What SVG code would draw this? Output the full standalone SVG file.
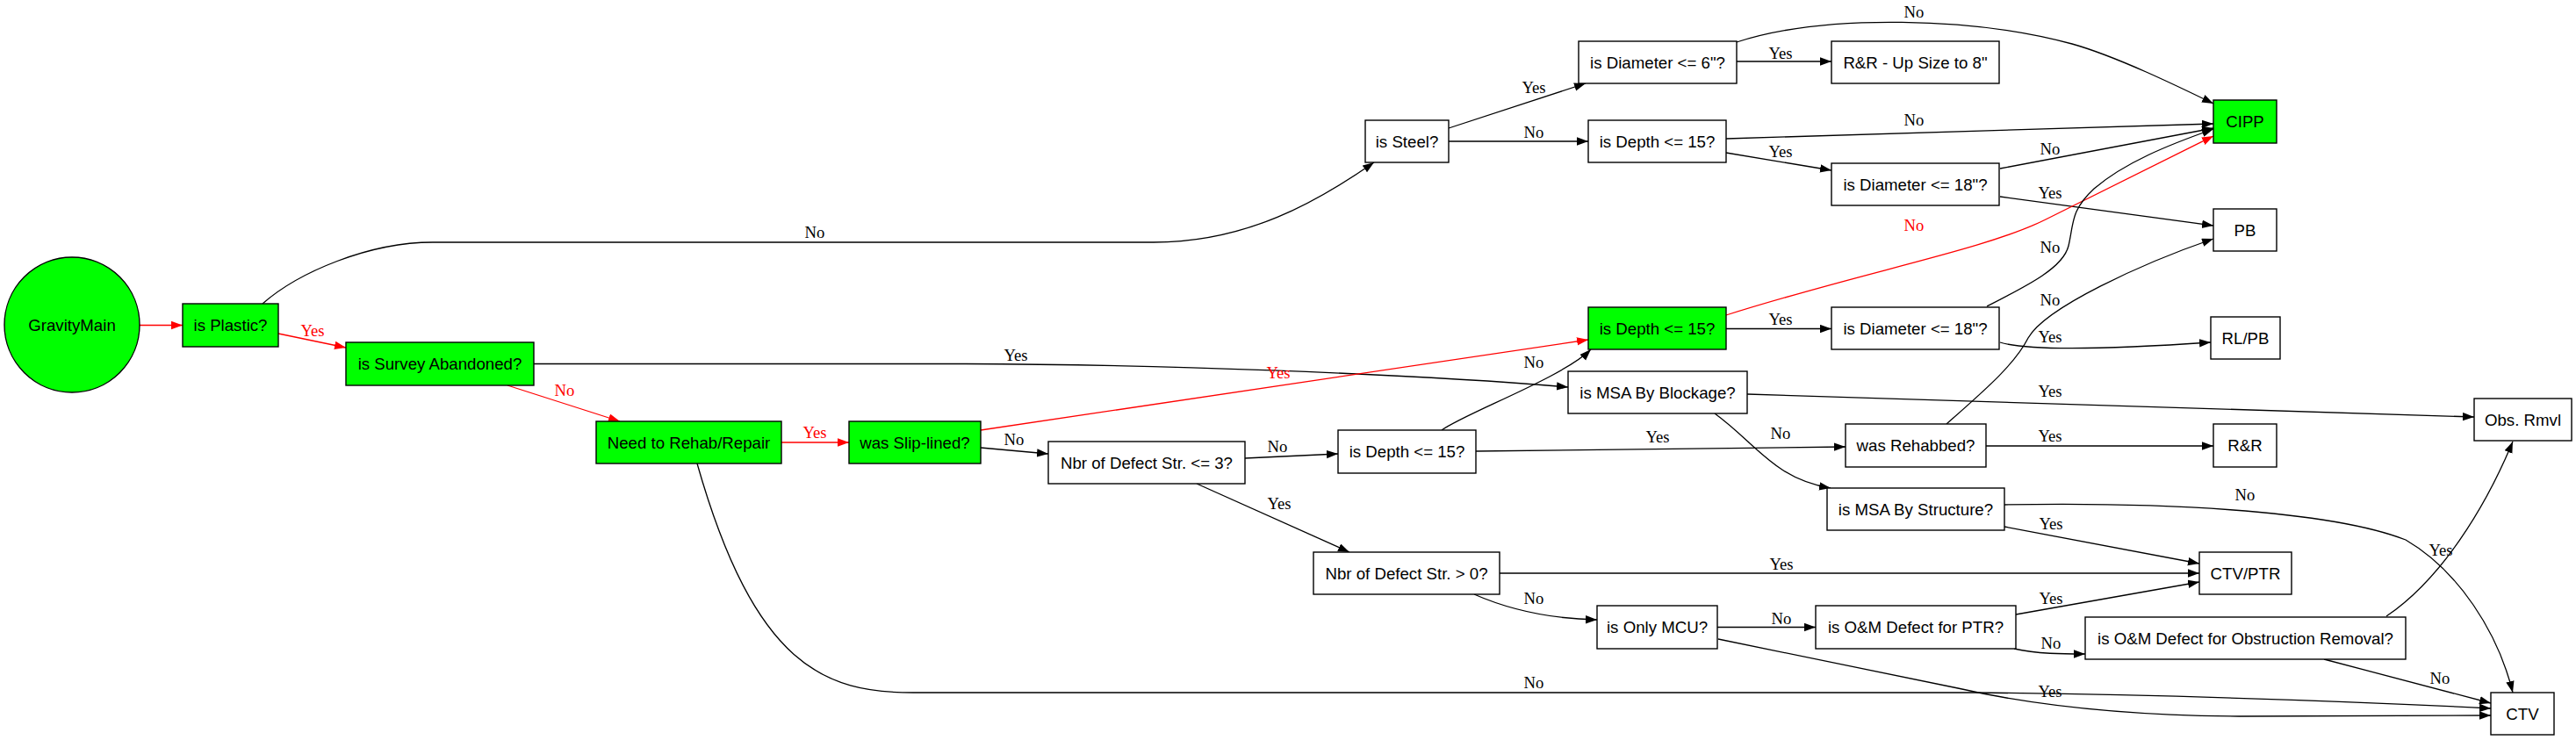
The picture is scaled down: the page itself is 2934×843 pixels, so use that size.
<svg xmlns="http://www.w3.org/2000/svg" width="2934" height="843" viewBox="0 0 2934 843">
<style>
.n rect, .n ellipse { stroke: #000; stroke-width: 1.4; }
.g rect, .g ellipse { fill: #00ff00; }
.w rect { fill: #ffffff; }
.n text { font-family: "Liberation Sans", Arial, sans-serif; font-size: 18.67px; text-anchor: middle; fill: #000; }
.e path { fill: none; stroke: #000; stroke-width: 1.3; marker-end: url(#ab); }
.e path.r { stroke: #ff0000; marker-end: url(#ar); }
.e text { font-family: "Liberation Serif", "Times New Roman", serif; font-size: 18.67px; text-anchor: middle; fill: #000; }
.e text.r { fill: #ff0000; }
</style>
<defs>
<marker id="ab" markerUnits="userSpaceOnUse" markerWidth="14" markerHeight="10" refX="13" refY="4.7" orient="auto"><path d="M0,0 L13,4.7 L0,9.4 z" fill="#000"/></marker>
<marker id="ar" markerUnits="userSpaceOnUse" markerWidth="14" markerHeight="10" refX="13" refY="4.7" orient="auto"><path d="M0,0 L13,4.7 L0,9.4 z" fill="#ff0000"/></marker>
</defs>
<rect width="2934" height="843" fill="#ffffff"/>
<g id="edges" class="e">
<path class="r" d="M159,370.5 L208,370.5"/>
<path class="r" d="M317,380 L394,396"/><text class="r" x="356" y="383">Yes</text>
<path d="M299,346 C340,310 420,276 493,276 L1314,276 C1420,276 1500,230 1565,185"/><text x="928" y="271">No</text>
<path class="r" d="M578,439 L706,480"/><text class="r" x="643" y="451">No</text>
<path d="M608,414.5 L1100,414.5 C1300,415 1600,425 1786,441"/><text x="1157" y="411">Yes</text>
<path class="r" d="M890,504 L967,504"/><text class="r" x="928" y="499">Yes</text>
<path d="M794,528 C860,760 940,789 1040,789 L2250,789 C2500,792 2700,800 2837,807"/><text x="1747" y="784">No</text>
<path d="M1117,510 L1194,517"/><text x="1155" y="507">No</text>
<path class="r" d="M1117,490 L1809,387"/><text class="r" x="1456" y="431">Yes</text>
<path d="M1418,522 L1524,517"/><text x="1455" y="515">No</text>
<path d="M1363,551 L1537,629"/><text x="1457" y="580">Yes</text>
<path d="M1650,146 L1806,95"/><text x="1747" y="106">Yes</text>
<path d="M1650,161 L1809,161"/><text x="1747" y="157">No</text>
<path d="M1978,70 L2086,70"/><text x="2028" y="67">Yes</text>
<path d="M1978,48 C2080,15 2250,20 2360,50 C2410,64 2480,98 2521,118"/><text x="2180" y="20">No</text>
<path d="M1966,158 L2521,141"/><text x="2180" y="143">No</text>
<path d="M1966,174 L2086,194"/><text x="2028" y="179">Yes</text>
<path d="M2278,192 L2521,146"/><text x="2335" y="176">No</text>
<path d="M2278,224 L2521,257"/><text x="2335" y="226">Yes</text>
<path class="r" d="M1966,359 C2120,310 2260,285 2330,250 C2400,215 2460,185 2521,155"/><text class="r" x="2180" y="263">No</text>
<path d="M1966,374.5 L2086,374.5"/><text x="2028" y="370">Yes</text>
<path d="M2263,349 C2310,325 2350,305 2356,280 C2362,255 2358,240 2385,215 C2420,185 2470,165 2521,147"/><text x="2335" y="288">No</text>
<path d="M2278,390 C2310,400 2400,398 2518,390"/><text x="2335" y="390">Yes</text>
<path d="M1990,449 L2818,475"/><text x="2335" y="452">Yes</text>
<path d="M1953,471 C2000,505 2020,545 2085,556"/><text x="2028" y="500">No</text>
<path d="M1642,490 C1670,470 1780,430 1812,398"/><text x="1747" y="419">No</text>
<path d="M1681,514 L2102,509"/><text x="1888" y="504">Yes</text>
<path d="M2262,508 L2521,508"/><text x="2335" y="503">Yes</text>
<path d="M2217,483 C2260,445 2295,415 2310,385 C2330,350 2440,300 2521,272"/><text x="2335" y="348">No</text>
<path d="M2283,575 C2450,572 2650,580 2740,615 C2800,650 2845,720 2862,789"/><text x="2557" y="570">No</text>
<path d="M2283,600 L2505,642"/><text x="2336" y="603">Yes</text>
<path d="M1708,653 L2505,653"/><text x="2029" y="649">Yes</text>
<path d="M1679,677 C1720,695 1770,705 1819,706"/><text x="1747" y="688">No</text>
<path d="M1956,714.5 L2068,714.5"/><text x="2029" y="711">No</text>
<path d="M1957,728 L2230,784 C2300,800 2400,815 2550,816 L2837,815"/><text x="2335" y="794">Yes</text>
<path d="M2296,700 L2505,663"/><text x="2336" y="688">Yes</text>
<path d="M2294,739 C2320,745 2350,745 2375,745"/><text x="2336" y="739">No</text>
<path d="M2718,702 C2780,660 2830,580 2862,503"/><text x="2780" y="633">Yes</text>
<path d="M2647,751 L2837,801"/><text x="2779" y="779">No</text>
</g>
<g id="GravityMain" class="n g"><ellipse cx="82" cy="370" rx="77" ry="77"/><text x="82" y="376.5">GravityMain</text></g>
<g id="isPlastic" class="n g"><rect x="208" y="346" width="109" height="49"/><text x="262.5" y="377">is Plastic?</text></g>
<g id="isSurveyAbandoned" class="n g"><rect x="394" y="390" width="214" height="49"/><text x="501" y="421">is Survey Abandoned?</text></g>
<g id="NeedToRehab" class="n g"><rect x="679" y="480" width="211" height="48"/><text x="784.5" y="510.5">Need to Rehab/Repair</text></g>
<g id="wasSlipLined" class="n g"><rect x="967" y="480" width="150" height="48"/><text x="1042" y="510.5">was Slip-lined?</text></g>
<g id="NbrLe3" class="n w"><rect x="1194" y="503" width="224" height="48"/><text x="1306" y="533.5">Nbr of Defect Str. &lt;= 3?</text></g>
<g id="isSteel" class="n w"><rect x="1555" y="137" width="95" height="48"/><text x="1602.5" y="167.5">is Steel?</text></g>
<g id="isDiam6" class="n w"><rect x="1798" y="47" width="180" height="48"/><text x="1888" y="77.5">is Diameter &lt;= 6"?</text></g>
<g id="RRUpSize" class="n w"><rect x="2086" y="47" width="191" height="48"/><text x="2181.5" y="77.5">R&amp;R - Up Size to 8"</text></g>
<g id="isDepthA" class="n w"><rect x="1809" y="137" width="157" height="48"/><text x="1887.5" y="167.5">is Depth &lt;= 15?</text></g>
<g id="isDiam18A" class="n w"><rect x="2086" y="186" width="191" height="48"/><text x="2181.5" y="216.5">is Diameter &lt;= 18"?</text></g>
<g id="CIPP" class="n g"><rect x="2521" y="114" width="72" height="49"/><text x="2557" y="145">CIPP</text></g>
<g id="PB" class="n w"><rect x="2521" y="238" width="72" height="48"/><text x="2557" y="268.5">PB</text></g>
<g id="isDepthB" class="n g"><rect x="1809" y="350" width="157" height="48"/><text x="1887.5" y="380.5">is Depth &lt;= 15?</text></g>
<g id="isDiam18B" class="n w"><rect x="2086" y="350" width="191" height="48"/><text x="2181.5" y="380.5">is Diameter &lt;= 18"?</text></g>
<g id="RLPB" class="n w"><rect x="2518" y="361" width="79" height="48"/><text x="2557.5" y="391.5">RL/PB</text></g>
<g id="isMSABlockage" class="n w"><rect x="1786" y="423" width="204" height="48"/><text x="1888" y="453.5">is MSA By Blockage?</text></g>
<g id="ObsRmvl" class="n w"><rect x="2818" y="454" width="111" height="48"/><text x="2873.5" y="484.5">Obs. Rmvl</text></g>
<g id="isDepthC" class="n w"><rect x="1524" y="490" width="157" height="49"/><text x="1602.5" y="521">is Depth &lt;= 15?</text></g>
<g id="wasRehabbed" class="n w"><rect x="2102" y="483" width="160" height="49"/><text x="2182" y="514">was Rehabbed?</text></g>
<g id="RR" class="n w"><rect x="2521" y="483" width="72" height="49"/><text x="2557" y="514">R&amp;R</text></g>
<g id="isMSAStructure" class="n w"><rect x="2081" y="556" width="202" height="48"/><text x="2182" y="586.5">is MSA By Structure?</text></g>
<g id="NbrGt0" class="n w"><rect x="1496" y="629" width="212" height="48"/><text x="1602" y="659.5">Nbr of Defect Str. &gt; 0?</text></g>
<g id="CTVPTR" class="n w"><rect x="2505" y="629" width="105" height="48"/><text x="2557.5" y="659.5">CTV/PTR</text></g>
<g id="isOnlyMCU" class="n w"><rect x="1819" y="690" width="137" height="49"/><text x="1887.5" y="721">is Only MCU?</text></g>
<g id="isOMPTR" class="n w"><rect x="2068" y="690" width="228" height="49"/><text x="2182" y="721">is O&amp;M Defect for PTR?</text></g>
<g id="isOMObs" class="n w"><rect x="2375" y="703" width="365" height="48"/><text x="2557.5" y="733.5">is O&amp;M Defect for Obstruction Removal?</text></g>
<g id="CTV" class="n w"><rect x="2837" y="789" width="72" height="48"/><text x="2873" y="819.5">CTV</text></g>
</svg>
